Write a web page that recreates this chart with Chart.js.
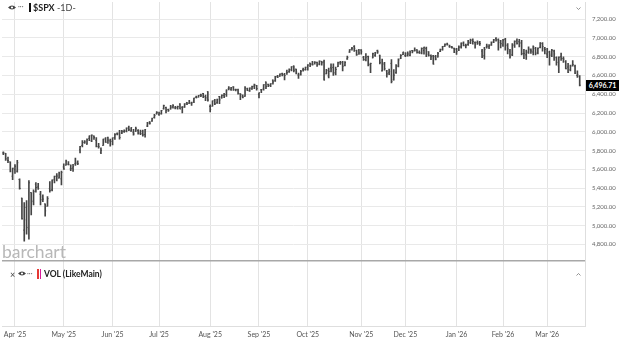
<!DOCTYPE html>
<html><head><meta charset="utf-8">
<script src="https://cdn.jsdelivr.net/npm/chart.js@4.4.1/dist/chart.umd.min.js"></script>
<style>
html,body{margin:0;padding:0;background:#fff;}
#wrap{position:relative;width:624px;height:342px;overflow:hidden;font-family:'Lato','Open Sans',sans-serif;}
canvas{position:absolute;left:0;top:0;}
.t{position:absolute;white-space:nowrap;color:#222;line-height:1;}
</style></head><body>
<div id="wrap">
<canvas id="c" width="624" height="342"></canvas>
<div class="t" style="left:2px;top:243px;font-size:17.5px;line-height:17px;color:#b8b8b8;">barchart</div>
<svg style="position:absolute;left:8px;top:5px" width="8" height="5" viewBox="0 0 8 5"><path d="M0 2.5 Q4 -1.5 8 2.5 Q4 6.5 0 2.5Z" fill="#444"/><circle cx="4" cy="2.5" r="1.1" fill="#fff"/></svg>
<div class="t" style="left:18px;top:3px;font-size:7px;color:#666;">···</div>
<div style="position:absolute;left:29px;top:3px;width:2px;height:9px;background:#111;"></div>
<div class="t" style="left:33px;top:3px;font-size:9px;"><span style="font-weight:bold;color:#222;">$SPX</span><span style="color:#444;"> -1D-</span></div>
<svg style="position:absolute;left:576px;top:7px" width="5" height="3" viewBox="0 0 5 3"><path d="M0.5 0.5 L2.5 2.5 L4.5 0.5" stroke="#777" fill="none" stroke-width="0.8"/></svg>
<div class="t" style="left:10px;top:270px;font-size:9px;color:#444;">×</div>
<svg style="position:absolute;left:18px;top:271px" width="8" height="5" viewBox="0 0 8 5"><path d="M0 2.5 Q4 -1.5 8 2.5 Q4 6.5 0 2.5Z" fill="#444"/><circle cx="4" cy="2.5" r="1.1" fill="#fff"/></svg>
<div class="t" style="left:27px;top:270px;font-size:7px;color:#666;">···</div>
<div style="position:absolute;left:37px;top:269px;width:1.5px;height:10px;background:#e53935;"></div>
<div style="position:absolute;left:39.5px;top:269px;width:1.5px;height:10px;background:#d81b9a;"></div>
<div class="t" style="left:44px;top:270px;font-size:8.5px;font-weight:bold;color:#222;">VOL (LikeMain)</div>
<svg style="position:absolute;left:576px;top:273px" width="5" height="3" viewBox="0 0 5 3"><path d="M0.5 2.5 L2.5 0.5 L4.5 2.5" stroke="#777" fill="none" stroke-width="0.8"/></svg>
<div class="t" id="tag" style="left:586px;top:79px;width:33px;height:11px;line-height:11px;background:#000;color:#fff;font-size:7px;font-weight:bold;text-align:center;"></div>
</div>
<script>
const dates = [
'2025-03-25','2025-03-26','2025-03-27','2025-03-28','2025-03-31',
'2025-04-01','2025-04-02','2025-04-03','2025-04-04','2025-04-07','2025-04-08','2025-04-09','2025-04-10','2025-04-11','2025-04-14','2025-04-15','2025-04-16','2025-04-17','2025-04-21','2025-04-22','2025-04-23','2025-04-24','2025-04-25','2025-04-28','2025-04-29','2025-04-30',
'2025-05-01','2025-05-02','2025-05-05','2025-05-06','2025-05-07','2025-05-08','2025-05-09','2025-05-12','2025-05-13','2025-05-14','2025-05-15','2025-05-16','2025-05-19','2025-05-20','2025-05-21','2025-05-22','2025-05-23','2025-05-27','2025-05-28','2025-05-29','2025-05-30',
'2025-06-02','2025-06-03','2025-06-04','2025-06-05','2025-06-06','2025-06-09','2025-06-10','2025-06-11','2025-06-12','2025-06-13','2025-06-16','2025-06-17','2025-06-18','2025-06-20','2025-06-23','2025-06-24','2025-06-25','2025-06-26','2025-06-27','2025-06-30',
'2025-07-01','2025-07-02','2025-07-03','2025-07-07','2025-07-08','2025-07-09','2025-07-10','2025-07-11','2025-07-14','2025-07-15','2025-07-16','2025-07-17','2025-07-18','2025-07-21','2025-07-22','2025-07-23','2025-07-24','2025-07-25','2025-07-28','2025-07-29','2025-07-30','2025-07-31',
'2025-08-01','2025-08-04','2025-08-05','2025-08-06','2025-08-07','2025-08-08','2025-08-11','2025-08-12','2025-08-13','2025-08-14','2025-08-15','2025-08-18','2025-08-19','2025-08-20','2025-08-21','2025-08-22','2025-08-25','2025-08-26','2025-08-27','2025-08-28','2025-08-29',
'2025-09-02','2025-09-03','2025-09-04','2025-09-05','2025-09-08','2025-09-09','2025-09-10','2025-09-11','2025-09-12','2025-09-15','2025-09-16','2025-09-17','2025-09-18','2025-09-19','2025-09-22','2025-09-23','2025-09-24','2025-09-25','2025-09-26','2025-09-29','2025-09-30',
'2025-10-01','2025-10-02','2025-10-03','2025-10-06','2025-10-07','2025-10-08','2025-10-09','2025-10-10','2025-10-13','2025-10-14','2025-10-15','2025-10-16','2025-10-17','2025-10-20','2025-10-21','2025-10-22','2025-10-23','2025-10-24','2025-10-27','2025-10-28','2025-10-29','2025-10-30','2025-10-31',
'2025-11-03','2025-11-04','2025-11-05','2025-11-06','2025-11-07','2025-11-10','2025-11-11','2025-11-12','2025-11-13','2025-11-14','2025-11-17','2025-11-18','2025-11-19','2025-11-20','2025-11-21','2025-11-24','2025-11-25','2025-11-26','2025-11-28',
'2025-12-01','2025-12-02','2025-12-03','2025-12-04','2025-12-05','2025-12-08','2025-12-09','2025-12-10','2025-12-11','2025-12-12','2025-12-15','2025-12-16','2025-12-17','2025-12-18','2025-12-19','2025-12-22','2025-12-23','2025-12-24','2025-12-26','2025-12-29','2025-12-30','2025-12-31',
'2026-01-02','2026-01-05','2026-01-06','2026-01-07','2026-01-08','2026-01-09','2026-01-12','2026-01-13','2026-01-14','2026-01-15','2026-01-16','2026-01-20','2026-01-21','2026-01-22','2026-01-23','2026-01-26','2026-01-27','2026-01-28','2026-01-29','2026-01-30',
'2026-02-02','2026-02-03','2026-02-04','2026-02-05','2026-02-06','2026-02-09','2026-02-10','2026-02-11','2026-02-12','2026-02-13','2026-02-17','2026-02-18','2026-02-19','2026-02-20','2026-02-23','2026-02-24','2026-02-25','2026-02-26','2026-02-27',
'2026-03-02','2026-03-03','2026-03-04','2026-03-05','2026-03-06','2026-03-09','2026-03-10','2026-03-11','2026-03-12','2026-03-13','2026-03-16','2026-03-17','2026-03-18','2026-03-19','2026-03-20'
];
const opens = [
5775,5771,5695,5679,5527,
5597,5581,5492,5293,4953,5194,4966,5353,5256,5442,5412,5335,5306,5232,5207,5395,5381,5489,5529,5508,5499,
5626,5645,5655,5605,5614,5660,5676,5808,5855,5887,5869,5930,5903,5954,5910,5842,5781,5855,5925,5940,5903,
5897,5939,5979,5986,5987,6005,6009,6049,6009,5997,6005,6013,5987,6004,5970,6061,6105,6116,6153,6193,
6187,6192,6246,6259,6237,6243,6266,6255,6255,6295,6261,6264,6313,6304,6307,6327,6368,6370,6397,6409,6375,6428,
6271,6272,6337,6309,6376,6361,6389,6398,6461,6453,6478,6446,6447,6405,6380,6379,6458,6436,6457,6486,6494,
6401,6447,6456,6530,6506,6496,6550,6544,6590,6594,6619,6609,6637,6640,6660,6701,6668,6605,6615,6661,6662,
6665,6732,6722,6734,6740,6722,6751,6744,6618,6595,6682,6686,6626,6694,6736,6741,6708,6777,6849,6887,6910,6867,6870,
6871,6794,6766,6802,6714,6788,6815,6864,6815,6650,6722,6648,6628,6729,6555,6630,6700,6780,6822,
6813,6830,6815,6866,6866,6873,6846,6841,6866,6889,6852,6812,6808,6801,6798,6855,6874,6911,6935,6913,6906,6890,
6880,6880,6905,6945,6915,6930,6950,6975,6950,6950,6955,6860,6810,6905,6905,6925,6960,6995,6980,6950,
6925,6985,6925,6860,6820,6920,6970,6960,6950,6835,6820,6850,6870,6850,6890,6845,6900,6940,6890,
6830,6850,6830,6860,6790,6700,6800,6780,6750,6690,6660,6710,6700,6600,6590
];
const highs = [
5788,5772,5732,5679,5615,
5650,5695,5500,5293,5247,5268,5481,5353,5381,5460,5450,5367,5328,5233,5309,5469,5488,5528,5554,5572,5581,
5659,5700,5683,5649,5654,5721,5691,5845,5907,5907,5924,5958,5969,5957,5939,5878,5830,5922,5939,5944,5923,
5937,5982,5990,6016,6017,6021,6043,6060,6045,6027,6051,6024,6019,6018,6026,6101,6109,6147,6187,6216,
6211,6228,6285,6263,6242,6281,6290,6272,6274,6302,6269,6301,6315,6336,6316,6360,6381,6389,6401,6409,6391,6428,
6288,6330,6346,6350,6379,6395,6409,6446,6481,6474,6481,6456,6455,6407,6394,6481,6466,6468,6487,6509,6494,
6416,6453,6502,6533,6508,6513,6555,6592,6601,6619,6627,6624,6657,6672,6695,6703,6669,6626,6654,6679,6689,
6715,6733,6750,6749,6744,6757,6751,6765,6665,6679,6725,6724,6690,6744,6752,6751,6749,6808,6877,6900,6920,6871,6879,
6877,6804,6834,6807,6731,6838,6847,6870,6818,6775,6739,6654,6669,6770,6664,6715,6777,6822,6850,
6843,6851,6862,6867,6895,6875,6862,6895,6904,6902,6856,6819,6814,6816,6846,6881,6911,6937,6945,6924,6912,6892,
6890,6915,6948,6960,6935,6975,6987,6990,6960,6970,6965,6880,6900,6935,6930,6960,6985,7005,6990,6975,
6985,6995,6940,6880,6940,6970,6990,6985,6975,6880,6870,6905,6885,6915,6900,6895,6950,6950,6900,
6890,6860,6880,6870,6800,6800,6840,6800,6760,6730,6710,6760,6710,6650,6600
];
const lows = [
5757,5694,5670,5572,5489,
5558,5571,5390,5069,4835,4910,4857,5116,5220,5358,5387,5220,5255,5101,5207,5356,5371,5456,5478,5506,5434,
5599,5644,5647,5587,5578,5643,5649,5775,5839,5876,5867,5907,5895,5919,5839,5825,5767,5855,5886,5876,5848,
5861,5919,5966,5921,5979,5994,6000,6011,6003,5963,6005,5974,5970,5953,5944,6054,6081,6110,6146,6189,
6175,6187,6242,6202,6217,6241,6251,6244,6242,6243,6202,6259,6288,6303,6282,6311,6360,6368,6375,6364,6331,6327,
6212,6272,6289,6302,6299,6358,6364,6378,6447,6441,6441,6436,6401,6343,6360,6378,6438,6430,6453,6461,6444,
6361,6418,6445,6460,6480,6480,6508,6537,6577,6589,6596,6552,6612,6632,6650,6638,6617,6569,6604,6645,6657,
6657,6694,6709,6720,6696,6713,6710,6550,6618,6573,6637,6600,6605,6694,6718,6649,6702,6770,6847,6869,6856,6815,6825,
6826,6761,6754,6701,6631,6788,6804,6834,6723,6647,6657,6581,6608,6522,6551,6621,6691,6780,6822,
6800,6806,6808,6840,6858,6837,6836,6830,6828,6801,6806,6768,6720,6765,6796,6853,6870,6909,6924,6898,6892,6843,
6825,6865,6890,6915,6895,6920,6940,6935,6890,6930,6920,6789,6775,6890,6885,6920,6950,6965,6870,6895,
6910,6870,6830,6785,6810,6900,6935,6905,6820,6780,6770,6835,6835,6820,6820,6830,6895,6860,6830,
6790,6710,6800,6760,6710,6630,6760,6740,6670,6630,6650,6700,6620,6580,6490
];
const closes = [
5776,5712,5693,5581,5612,
5633,5671,5397,5074,5062,4982,5457,5268,5363,5406,5396,5276,5283,5158,5288,5376,5485,5525,5529,5561,5569,
5604,5687,5650,5607,5631,5664,5660,5844,5887,5892,5917,5958,5964,5940,5845,5842,5803,5922,5889,5912,5912,
5936,5970,5971,5939,6000,6006,6039,6022,6045,5977,6033,5982,5981,5967,6025,6092,6092,6141,6173,6205,
6198,6227,6279,6230,6226,6263,6280,6259,6269,6244,6264,6297,6297,6305,6309,6359,6363,6389,6390,6371,6362,6339,
6238,6330,6299,6345,6340,6389,6374,6446,6466,6469,6450,6449,6411,6396,6370,6467,6439,6466,6481,6502,6460,
6416,6448,6502,6482,6495,6512,6532,6587,6584,6615,6606,6600,6631,6664,6693,6656,6638,6605,6644,6661,6688,
6711,6715,6716,6740,6714,6753,6736,6553,6654,6644,6671,6630,6664,6735,6735,6699,6738,6792,6875,6891,6890,6822,6840,
6852,6771,6796,6720,6728,6832,6846,6851,6737,6734,6672,6617,6642,6538,6603,6705,6766,6813,6849,
6812,6829,6850,6857,6870,6846,6840,6887,6901,6827,6816,6800,6721,6775,6835,6878,6910,6932,6930,6905,6896,6845,
6858,6902,6944,6921,6921,6966,6977,6963,6927,6944,6940,6797,6876,6913,6916,6950,6979,6978,6969,6939,
6976,6917,6883,6798,6932,6964,6942,6941,6833,6836,6843,6881,6861,6909,6837,6890,6946,6908,6878,
6881,6817,6869,6830,6740,6795,6781,6775,6672,6632,6699,6716,6625,6606,6496.71
];
const monthLabels = ["Apr '25","May '25","Jun '25","Jul '25","Aug '25","Sep '25","Oct '25","Nov '25","Dec '25","Jan '26","Feb '26","Mar '26"];

const N = dates.length;
const monthStarts = [];
for (let i = 1; i < N; i++) if (dates[i].slice(0,7) !== dates[i-1].slice(0,7)) monthStarts.push(i);

const fmt = v => Number(v).toLocaleString('en-US', {minimumFractionDigits:2, maximumFractionDigits:2});
document.getElementById('tag').textContent = fmt(closes[N-1]);

Chart.defaults.font.family = "'Lato','Open Sans',sans-serif";
const INK = '#454545';

const tagPlugin = {
  id: 'tag',
  afterDraw(c) {
    const y = c.scales.y.getPixelForValue(closes[N-1]);
    document.getElementById('tag').style.top = (y - 5.5) + 'px';
  }
};

new Chart(document.getElementById('c'), {
  type: 'scatter',
  data: {
    datasets: [
      { type: 'bar', data: dates.map((d,i) => ({x: i, y: [lows[i], highs[i]]})),
        backgroundColor: INK, barThickness: 1, grouped: false, borderWidth: 0, minBarLength: 1,
        xAxisID: 'x', yAxisID: 'y' },
      { type: 'scatter', data: dates.map((d,i) => ({x: i, y: opens[i]})),
        pointStyle: 'dash', pointRotation: 180, pointRadius: 1, pointHoverRadius: 0,
        pointBorderColor: INK, pointBorderWidth: 1, xAxisID: 'x', yAxisID: 'y' },
      { type: 'scatter', data: dates.map((d,i) => ({x: i, y: closes[i]})),
        pointStyle: 'dash', pointRotation: 0, pointRadius: 1, pointHoverRadius: 0,
        pointBorderColor: INK, pointBorderWidth: 1, xAxisID: 'x', yAxisID: 'y' }
    ]
  },
  plugins: [tagPlugin],
  options: {
    responsive: false, animation: false, devicePixelRatio: 1, events: [],
    layout: { padding: 0 },
    plugins: { legend: { display: false }, tooltip: { enabled: false } },
    scales: {
      x: {
        type: 'linear', position: 'bottom', min: -0.575, max: 250.28, offset: false,
        afterBuildTicks: s => { s.ticks = monthStarts.map(v => ({value: v})); },
        afterFit: s => { s.paddingLeft = 0; s.paddingRight = 0; },
        ticks: { autoSkip: false, maxRotation: 0, padding: 3.5, font: { size: 7 }, color: '#555',
          callback: v => { const k = monthStarts.indexOf(v); return k >= 0 ? monthLabels[k] : ''; } },
        grid: { color: '#e3e3e3', drawTicks: false, offset: false },
        border: { display: true, color: '#dedede' }
      },
      y: {
        type: 'linear', position: 'right', stack: 'pane', stackWeight: 263,
        min: 4627, max: 7383, beginAtZero: false,
        afterBuildTicks: s => { s.ticks = s.ticks.filter(t => Math.abs(t.value % 200) < 1e-6); },
        afterFit: s => { s.width = 39; s.paddingTop = 0; s.paddingBottom = 0; },
        ticks: { stepSize: 200, crossAlign: 'near', padding: 7, font: { size: 6 }, color: '#666', callback: v => fmt(v) },
        grid: { color: '#e9e9e9', drawTicks: false },
        border: { display: true, color: '#dedede' }
      },
      yv: {
        type: 'linear', position: 'right', stack: 'pane', stackWeight: 67, min: 0, max: 1,
        afterBuildTicks: s => { s.ticks = [{value: 0}, {value: 1}]; },
        afterFit: s => { s.width = 39; s.paddingTop = 0; s.paddingBottom = 0; },
        ticks: { display: false },
        grid: { drawTicks: false,
          color: c => (c.tick && c.tick.value === 1) ? '#a8a8a8' : 'rgba(0,0,0,0)',
          lineWidth: c => (c.tick && c.tick.value === 1) ? 1.5 : 1 },
        border: { display: true, color: '#dedede' }
      }
    }
  }
});
</script>
</body></html>
